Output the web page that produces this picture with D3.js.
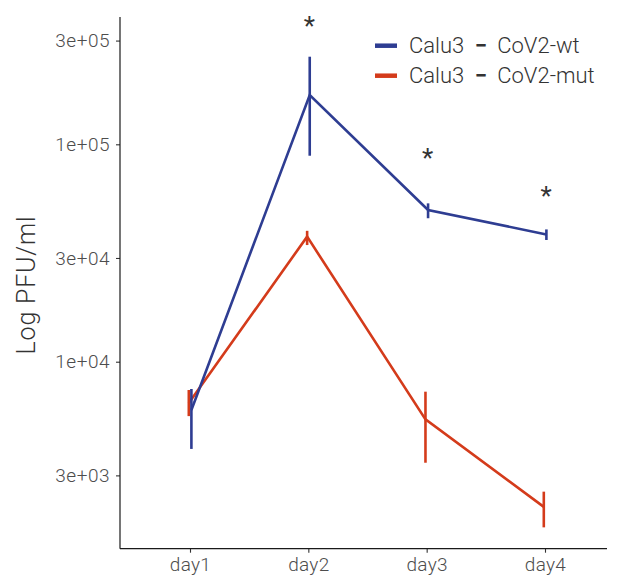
<!DOCTYPE html>
<html>
<head>
<meta charset="utf-8">
<script src="https://cdn.jsdelivr.net/npm/d3@7/dist/d3.min.js"></script>
<style>
  html, body { margin: 0; padding: 0; background: #fff; }
  svg { display: block; }
  text { font-family: "Roboto", "Lato", "DejaVu Sans", sans-serif; }
</style>
</head>
<body>
<script>
// Time points
const days = ["day1", "day2", "day3", "day4"];

// Series names
const seriesNames = ["Calu3 \u2212 CoV2-wt", "Calu3 \u2212 CoV2-mut"];

// PFU/ml: mean, lower and upper error bounds per day
const wtMean  = [6000, 168600, 49900, 38500];
const wtLow   = [3970, 88600, 45700, 36300];
const wtHigh  = [7490, 252900, 53500, 40600];

const mutMean = [6450, 37600, 5430, 2150];
const mutLow  = [5620, 34400, 3430, 1730];
const mutHigh = [7410, 40000, 7280, 2525];

// Significance markers and the height they sit at
const starLabels = ["", "*", "*", "*"];
const starLevel  = [null, 370000, 91500, 61200];

// Y axis ticks
const yTickValues = [3000, 10000, 30000, 100000, 300000];
const yTickLabels = ["3e+03", "1e+04", "3e+04", "1e+05", "3e+05"];

const colors = ["#2E3D92", "#D43B1B"];

const W = 620, H = 583;
const plotLeft = 120, plotRight = 607, plotTop = 17, plotBottom = 548.7;

const svg = d3.select("body").append("svg")
  .attr("width", W).attr("height", H);

svg.append("rect").attr("width", W).attr("height", H).attr("fill", "#fff");

const x = d3.scalePoint().domain(days).range([190, 545]);
const y = d3.scaleLog().domain([1380, 385100]).range([plotBottom, plotTop]);

// Y axis
const yAxis = svg.append("g")
  .attr("transform", `translate(${plotLeft},0)`)
  .call(d3.axisLeft(y)
    .tickValues(yTickValues)
    .tickFormat((d, i) => yTickLabels[i])
    .tickSize(4)
    .tickPadding(6));
yAxis.select(".domain").remove();
yAxis.selectAll(".tick line").attr("stroke", "#333").attr("stroke-width", 1.1);
yAxis.selectAll(".tick text")
  .attr("fill", "#4d4d4d")
  .style("font-size", "19px")
  .style("font-weight", 300)
  .style("letter-spacing", "0.5px");

// X axis
const xAxis = svg.append("g")
  .attr("transform", `translate(0,${plotBottom})`)
  .call(d3.axisBottom(x).tickSize(4).tickPadding(5));
xAxis.select(".domain").remove();
xAxis.selectAll(".tick line").attr("stroke", "#333").attr("stroke-width", 1.1);
xAxis.selectAll(".tick text")
  .attr("fill", "#4d4d4d")
  .style("font-size", "19px")
  .style("font-weight", 300)
  .style("letter-spacing", "0.3px");

// Axis lines
svg.append("line")
  .attr("x1", plotLeft).attr("x2", plotLeft).attr("y1", plotTop).attr("y2", plotBottom)
  .attr("stroke", "#1a1a1a").attr("stroke-width", 1.2);
svg.append("line")
  .attr("x1", plotLeft).attr("x2", plotRight).attr("y1", plotBottom).attr("y2", plotBottom)
  .attr("stroke", "#1a1a1a").attr("stroke-width", 1.2);

// Y axis title
svg.append("text")
  .attr("transform", `translate(35,285) rotate(-90)`)
  .attr("text-anchor", "middle")
  .attr("fill", "#333")
  .style("font-size", "25px")
  .style("font-weight", 300)
  .style("letter-spacing", "0.8px")
  .text("Log PFU/ml");

// Series lines with error bars (slightly dodged)
const series = [
  { mean: wtMean, low: wtLow, high: wtHigh, dodge: 1.4, color: colors[0] },
  { mean: mutMean, low: mutLow, high: mutHigh, dodge: -1.2, color: colors[1] }
];

const line = d3.line()
  .x(d => d.x)
  .y(d => y(d.v));

// Draw mut first so wt sits on top
[series[1], series[0]].forEach(s => {
  const pts = days.map((d, i) => ({ x: x(d) + s.dodge, v: s.mean[i], lo: s.low[i], hi: s.high[i] }));
  const g = svg.append("g");
  g.append("path")
    .datum(pts)
    .attr("d", line)
    .attr("fill", "none")
    .attr("stroke", s.color)
    .attr("stroke-width", 2.6)
    .attr("stroke-linejoin", "miter");
  g.selectAll("line.err")
    .data(pts)
    .join("line")
    .attr("class", "err")
    .attr("x1", d => d.x).attr("x2", d => d.x)
    .attr("y1", d => y(d.lo)).attr("y2", d => y(d.hi))
    .attr("stroke", s.color)
    .attr("stroke-width", 2.6);
});

// Significance asterisks
svg.selectAll("text.star")
  .data(days.map((d, i) => ({ d, label: starLabels[i], v: starLevel[i] })).filter(o => o.label))
  .join("text")
  .attr("class", "star")
  .attr("x", o => x(o.d) + 1)
  .attr("y", o => y(o.v) + 14)
  .attr("text-anchor", "middle")
  .attr("fill", "#333")
  .style("font-size", "26px")
  .style("font-weight", 400)
  .text(o => o.label);

// Legend: the minus separator is set a little heavier than the rest of the label
const legend = svg.append("g");
seriesNames.forEach((name, i) => {
  const ly = 45.7 + i * 30;
  legend.append("line")
    .attr("x1", 375).attr("x2", 397)
    .attr("y1", ly).attr("y2", ly)
    .attr("stroke", colors[i])
    .attr("stroke-width", 4.5);
  const t = legend.append("text")
    .attr("x", 409).attr("y", ly + 7.6)
    .attr("fill", "#333")
    .style("font-size", "22px")
    .style("font-weight", 300)
    .style("word-spacing", "5px");
  name.split(/(\u2212)/).forEach(part => {
    t.append("tspan")
      .style("font-weight", part === "\u2212" ? 700 : 300)
      .text(part);
  });
});
</script>
</body>
</html>
